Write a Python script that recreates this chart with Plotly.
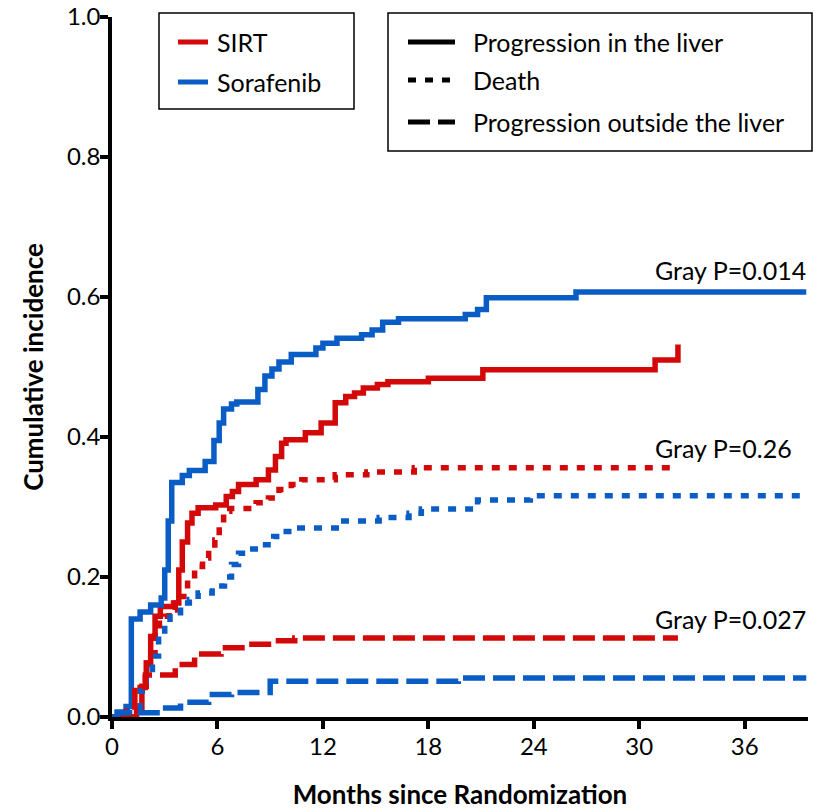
import plotly.graph_objects as go

# Cumulative incidence step curves: (month, value) pairs, each value holds from its month onward
sirt_liver_t = [0, 1.3, 1.4, 1.7, 1.95, 2.2, 2.45, 2.75, 3.5, 3.8, 4.0, 4.3, 4.55, 4.9, 5.9, 6.5, 6.85,
                7.2, 8.2, 8.9, 9.3, 9.65, 9.9, 11.0, 11.9, 12.7, 13.3, 13.8, 14.3, 15.1, 15.7, 18.0, 21.1,
                30.9, 32.2]
sirt_liver_v = [0, 0, 0.01, 0.044, 0.077, 0.115, 0.144, 0.158, 0.163, 0.21, 0.25, 0.277, 0.291, 0.299,
                0.303, 0.315, 0.322, 0.332, 0.339, 0.353, 0.372, 0.391, 0.396, 0.406, 0.42, 0.449, 0.458,
                0.463, 0.47, 0.475, 0.479, 0.484, 0.496, 0.51, 0.532]

sora_liver_t = [0, 0.3, 0.8, 1.1, 1.6, 2.2, 2.8, 3.0, 3.2, 3.4, 4.0, 4.4, 5.3, 5.8, 6.1, 6.35, 6.8, 7.1,
                8.3, 8.7, 9.1, 9.5, 10.2, 11.6, 12.0, 12.8, 14.2, 14.8, 15.4, 16.3, 20.1, 20.8, 21.3,
                26.4, 39.5]
sora_liver_v = [0, 0.007, 0.015, 0.14, 0.15, 0.16, 0.17, 0.21, 0.28, 0.335, 0.345, 0.352, 0.365, 0.395,
                0.42, 0.44, 0.447, 0.45, 0.468, 0.487, 0.497, 0.507, 0.518, 0.527, 0.534, 0.541, 0.546,
                0.553, 0.564, 0.569, 0.575, 0.582, 0.599, 0.607, 0.607]

sirt_death_t = [0, 1.2, 1.3, 1.6, 1.9, 2.0, 2.45, 2.7, 3.0, 3.25, 3.6, 3.9, 4.3, 4.7, 5.15, 5.5, 5.85,
                6.1, 6.35, 6.7, 8.2, 8.9, 9.5, 10.2, 10.8, 12.7, 14.5, 17.2, 32.0]
sirt_death_v = [0, 0, 0.01, 0.042, 0.068, 0.077, 0.12, 0.134, 0.144, 0.153, 0.163, 0.172, 0.196, 0.215,
                0.227, 0.239, 0.253, 0.272, 0.294, 0.298, 0.306, 0.313, 0.325, 0.332, 0.339, 0.346,
                0.35, 0.356, 0.356]

sora_death_t = [0, 0.5, 1.0, 1.6, 1.95, 2.3, 2.65, 3.0, 3.3, 3.9, 4.4, 4.9, 5.7, 6.4, 6.8, 7.2, 7.7,
                8.4, 9.2, 9.6, 10.4, 13.0, 15.2, 16.9, 17.6, 20.8, 23.8, 39.5]
sora_death_v = [0, 0.007, 0.01, 0.037, 0.068, 0.087, 0.115, 0.134, 0.149, 0.163, 0.168, 0.177, 0.187,
                0.2, 0.218, 0.234, 0.24, 0.246, 0.258, 0.265, 0.27, 0.28, 0.285, 0.291, 0.297, 0.31,
                0.316, 0.316]

sirt_extra_t = [0, 0.8, 1.3, 1.9, 3.6, 4.7, 6.2, 7.6, 9.1, 10.4, 32.2]
sirt_extra_v = [0, 0.008, 0.042, 0.06, 0.075, 0.09, 0.099, 0.104, 0.109, 0.113, 0.113]

sora_extra_t = [0, 0.3, 2.8, 3.9, 5.5, 6.8, 9.0, 19.7, 39.5]
sora_extra_v = [0, 0.006, 0.013, 0.021, 0.032, 0.035, 0.051, 0.0557, 0.0557]

x_ticks = [0, 6, 12, 18, 24, 30, 36]
y_ticks = [0.0, 0.2, 0.4, 0.6, 0.8, 1.0]

gray_labels = ["Gray P=0.014", "Gray P=0.26", "Gray P=0.027"]
gray_label_y = [0.639, 0.385, 0.14]
gray_label_x = 30.8

arm_names = ["SIRT", "Sorafenib"]
event_names = ["Progression in the liver", "Death", "Progression outside the liver"]

RED = "#d30808"
BLUE = "#0b5dc6"
FONT = "Lato, Carlito, Calibri, sans-serif"
DOT = "8px,9px"
DASH = "22px,8px"
LW = 5.5

# plot-area geometry in pixels, used to place the legend boxes in paper coordinates
W, H = 823, 812
ML, MR, MT, MB = 112, 15, 17, 95
PW, PH = W - ML - MR, H - MT - MB


def px(xp):
    return (xp - ML) / PW


def py(yp):
    return (H - MB - yp) / PH


fig = go.Figure()

series = [
    (sirt_liver_t, sirt_liver_v, RED, "solid"),
    (sora_liver_t, sora_liver_v, BLUE, "solid"),
    (sirt_death_t, sirt_death_v, RED, DOT),
    (sora_death_t, sora_death_v, BLUE, DOT),
    (sirt_extra_t, sirt_extra_v, RED, DASH),
    (sora_extra_t, sora_extra_v, BLUE, DASH),
]
for t, v, col, dash in series:
    fig.add_trace(go.Scatter(x=t, y=v, mode="lines", line=dict(color=col, width=LW, dash=dash, shape="hv"),
                             showlegend=False, hoverinfo="skip"))

shapes = []
annotations = []

# legend: treatment arms
shapes.append(dict(type="rect", xref="paper", yref="paper", x0=px(159), x1=px(354), y0=py(109), y1=py(13),
                   line=dict(color="black", width=1.5), fillcolor="white", layer="above"))
for i, (name, col) in enumerate(zip(arm_names, [RED, BLUE])):
    yy = 42 + 40 * i
    shapes.append(dict(type="line", xref="paper", yref="paper", x0=px(178), x1=px(208), y0=py(yy), y1=py(yy),
                       line=dict(color=col, width=5), layer="above"))
    annotations.append(dict(xref="paper", yref="paper", x=px(215), y=py(yy), text=name, showarrow=False,
                            xanchor="left", yanchor="middle",
                            font=dict(family=FONT, size=25, color="black")))

# legend: event types
shapes.append(dict(type="rect", xref="paper", yref="paper", x0=px(388), x1=px(812), y0=py(151), y1=py(13),
                   line=dict(color="black", width=1.5), fillcolor="white", layer="above"))
for name, dash, yy in zip(event_names, ["solid", DOT, DASH], [42, 80, 122]):
    shapes.append(dict(type="line", xref="paper", yref="paper", x0=px(408), x1=px(455), y0=py(yy), y1=py(yy),
                       line=dict(color="black", width=5, dash=dash), layer="above"))
    annotations.append(dict(xref="paper", yref="paper", x=px(471), y=py(yy), text=name, showarrow=False,
                            xanchor="left", yanchor="middle",
                            font=dict(family=FONT, size=25, color="black")))

for txt, yy in zip(gray_labels, gray_label_y):
    annotations.append(dict(x=gray_label_x, y=yy, xref="x", yref="y", text=txt, showarrow=False,
                            xanchor="left", yanchor="middle", font=dict(family=FONT, size=25, color="black")))

axis_common = dict(showline=True, linecolor="black", linewidth=3.5, ticks="outside", ticklen=8,
                   tickwidth=3.5, tickcolor="black", showgrid=False, zeroline=False, automargin=False,
                   tickfont=dict(family=FONT, size=24, color="black"))

fig.update_layout(
    width=W, height=H,
    margin=dict(l=ML, r=MR, t=MT, b=MB),
    plot_bgcolor="white", paper_bgcolor="white",
    showlegend=False,
    shapes=shapes, annotations=annotations,
    xaxis=dict(range=[0, 39.6], tickvals=x_ticks, ticktext=[str(v) for v in x_ticks],
               ticklabelstandoff=-3,
               title=dict(text="<b>Months since Randomization</b>", standoff=28,
                          font=dict(family=FONT, size=26, color="black")), **axis_common),
    yaxis=dict(range=[0, 1.0], tickvals=y_ticks, ticktext=[f"{v:.1f}" for v in y_ticks],
               ticklabelstandoff=-5,
               title=dict(text="<b>Cumulative incidence</b>", standoff=17,
                          font=dict(family=FONT, size=26, color="black")), **axis_common),
)

fig.write_html("out.html")
